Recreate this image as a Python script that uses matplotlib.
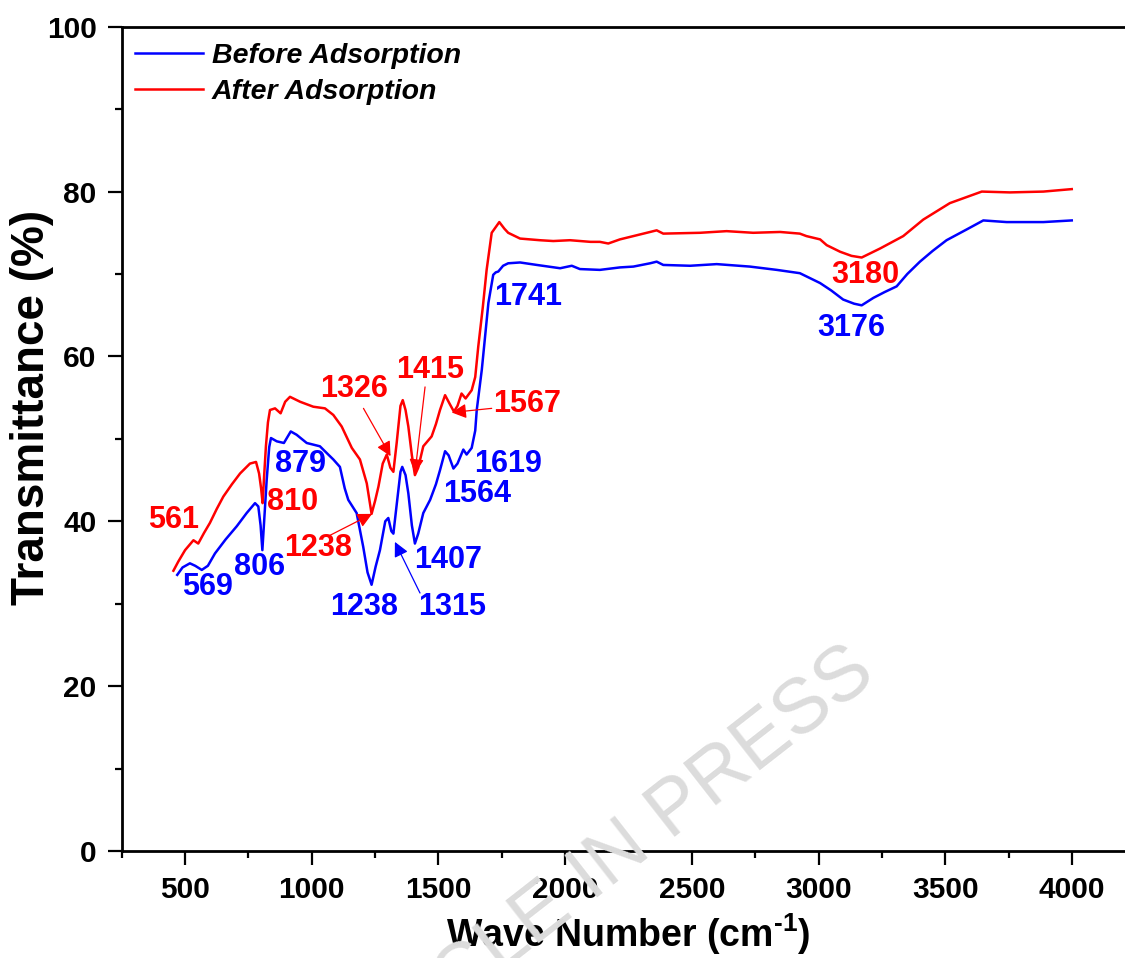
import matplotlib.pyplot as plt
from matplotlib.ticker import MultipleLocator

plt.rcParams['font.family'] = ['Liberation Sans', 'DejaVu Sans']
plt.rcParams['font.weight'] = 'bold'
plt.rcParams['mathtext.fontset'] = 'custom'
plt.rcParams['mathtext.rm'] = 'Liberation Sans:bold'
plt.rcParams['mathtext.bf'] = 'Liberation Sans:bold'

# FTIR spectra, wave number (cm-1) vs transmittance (%)
wn_before = [469, 490, 519, 540, 566, 590, 618, 660, 704, 743, 776, 789, 798, 805, 812,
             822, 832, 839, 862, 890, 917, 940, 980, 1032, 1065, 1085, 1111, 1130, 1144,
             1177, 1203, 1220, 1236, 1252, 1269, 1290, 1302, 1314, 1322, 1335, 1350, 1357,
             1370, 1381, 1395, 1407, 1420, 1440, 1467, 1490, 1506, 1526, 1540, 1559, 1575,
             1598, 1611, 1631, 1645, 1651, 1671, 1697, 1716, 1726, 1736, 1755, 1775, 1822,
             1888, 1980, 2026, 2058, 2137, 2216, 2269, 2335, 2361, 2387, 2493, 2598, 2729,
             2835, 2926, 3006, 3050, 3097, 3140, 3170, 3216, 3260, 3308, 3350, 3400, 3450,
             3505, 3584, 3650, 3742, 3887, 3999]
t_before = [33.5, 34.4, 34.9, 34.6, 34.1, 34.6, 36.1, 37.8, 39.4, 41.0, 42.2, 41.8, 39.5, 36.5, 40.0,
            45.0, 49.0, 50.1, 49.7, 49.5, 50.9, 50.5, 49.5, 49.1, 48.1, 47.5, 46.6, 44.0, 42.6,
            41.0, 36.9, 33.8, 32.3, 34.5, 36.5, 40.0, 40.4, 38.8, 38.5, 42.0, 46.0, 46.6,
            45.6, 43.4, 39.5, 37.3, 38.5, 41.0, 42.6, 44.5, 46.2, 48.5, 48.0, 46.4, 47.0,
            48.7, 48.1, 48.9, 51.0, 53.5, 58.4, 66.5, 69.9, 70.2, 70.3, 71.0, 71.3, 71.4,
            71.1, 70.7, 71.0, 70.6, 70.5, 70.8, 70.9, 71.3, 71.5, 71.1, 71.0, 71.2, 70.9,
            70.5, 70.1, 68.9, 68.0, 66.9, 66.4, 66.2, 67.1, 67.8, 68.5, 70.0, 71.5, 72.8,
            74.1, 75.4, 76.5, 76.3, 76.3, 76.5]

wn_after = [454, 473, 500, 533, 552, 575, 598, 625, 651, 685, 717, 756, 780, 792, 800, 806,
            812, 819, 827, 835, 855, 877, 895, 914, 954, 1006, 1052, 1085, 1118, 1158, 1190,
            1217, 1236, 1250, 1263, 1280, 1296, 1310, 1322, 1335, 1350, 1359, 1370, 1381,
            1395, 1407, 1420, 1440, 1473, 1490, 1506, 1526, 1545, 1561, 1575, 1591, 1607,
            1631, 1645, 1657, 1675, 1690, 1710, 1740, 1760, 1775, 1822, 1900, 1953, 2019,
            2100, 2137, 2170, 2216, 2269, 2335, 2361, 2387, 2532, 2637, 2742, 2848, 2926,
            2952, 3006, 3032, 3085, 3130, 3170, 3243, 3334, 3413, 3518, 3644, 3755, 3887, 3999]
t_after = [34.0, 35.1, 36.5, 37.7, 37.3, 38.6, 39.8, 41.5, 43.0, 44.5, 45.8, 47.0, 47.2, 45.8, 44.0, 42.2,
           45.5, 49.1, 52.0, 53.5, 53.7, 53.1, 54.5, 55.1, 54.5, 53.9, 53.7, 52.9, 51.5, 48.9, 47.5,
           44.6, 40.9, 42.5, 44.2, 47.0, 48.1, 46.5, 46.0, 49.5, 54.0, 54.7, 53.5, 51.5,
           48.0, 45.6, 46.5, 49.1, 50.3, 51.8, 53.5, 55.3, 54.2, 53.3, 54.0, 55.5, 54.9,
           55.9, 57.5, 61.2, 66.0, 70.5, 75.0, 76.3, 75.5, 75.0, 74.3, 74.1, 74.0, 74.1,
           73.9, 73.9, 73.7, 74.2, 74.6, 75.1, 75.3, 74.9, 75.0, 75.2, 75.0, 75.1, 74.9,
           74.6, 74.2, 73.5, 72.7, 72.2, 72.0, 73.1, 74.6, 76.6, 78.6, 80.0, 79.9, 80.0, 80.3]

# peak labels: text, label position (x, y)
labels_before = [("569", 587, 32.0), ("806", 792, 34.5), ("879", 954, 47.0),
                 ("1238", 1206, 29.6), ("1315", 1553, 29.6), ("1407", 1537, 35.3),
                 ("1564", 1652, 43.3), ("1619", 1774, 47.0), ("1741", 1853, 67.2),
                 ("3176", 3128, 63.5)]
labels_after = [("561", 456, 40.1), ("810", 926, 42.4), ("1238", 1025, 36.8),
                ("1326", 1166, 56.0), ("1415", 1467, 58.4), ("1567", 1849, 54.2),
                ("3180", 3183, 69.9)]

# arrows: (tail x, tail y, head x, head y)
arrows_before = [(1427, 31.3, 1328, 37.5)]
arrows_after = [(1072, 38.3, 1238, 40.9), (1204, 53.7, 1311, 47.9),
                (1447, 56.3, 1407, 45.8), (1710, 53.7, 1552, 53.2)]

fig = plt.figure(figsize=(11.25, 9.58), dpi=100)
ax = fig.add_axes([0.1082, 0.1117, 0.901, 0.8604])

ax.plot(wn_before, t_before, color='#0000ff', lw=1.8, label='Before Adsorption')
ax.plot(wn_after, t_after, color='#ff0000', lw=1.8, label='After Adsorption')

for txt, x, y in labels_before:
    ax.text(x, y, txt, color='#0000ff', fontsize=22, fontweight='bold', ha='center', va='center')
for txt, x, y in labels_after:
    ax.text(x, y, txt, color='#ff0000', fontsize=22, fontweight='bold', ha='center', va='center')

for x0, y0, x1, y1 in arrows_before:
    ax.annotate('', xy=(x1, y1), xytext=(x0, y0),
                arrowprops=dict(arrowstyle='-|>', color='#0000ff', lw=0.9, mutation_scale=22,
                                shrinkA=0, shrinkB=0))
for x0, y0, x1, y1 in arrows_after:
    ax.annotate('', xy=(x1, y1), xytext=(x0, y0),
                arrowprops=dict(arrowstyle='-|>', color='#ff0000', lw=0.9, mutation_scale=22,
                                shrinkA=0, shrinkB=0))

ax.set_xlim(250, 4250)
ax.set_ylim(0, 100)
ax.xaxis.set_major_locator(MultipleLocator(500))
ax.xaxis.set_minor_locator(MultipleLocator(250))
ax.yaxis.set_major_locator(MultipleLocator(20))
ax.yaxis.set_minor_locator(MultipleLocator(10))
ax.tick_params(which='major', direction='out', length=10, width=1.6, labelsize=21.5, pad=8)
ax.tick_params(which='minor', direction='out', length=5, width=1.6)
for lab in ax.get_xticklabels() + ax.get_yticklabels():
    lab.set_fontweight('bold')
for side in ['left', 'bottom', 'top']:
    ax.spines[side].set_linewidth(2)
ax.spines['right'].set_visible(False)

ax.set_xlabel('Wave Number (cm$^{\\text{-1}}$)', fontsize=27, fontweight='bold', labelpad=5)
ax.set_ylabel('Transmittance (%)', fontsize=33, fontweight='bold')
ax.yaxis.set_label_coords(-0.067, 0.5376)

leg = ax.legend(loc='upper left', bbox_to_anchor=(0.002, 0.994), frameon=False,
                prop=dict(size=20.5, weight='bold', style='italic'),
                handlelength=2.4, handletextpad=0.3, labelspacing=0.36, borderaxespad=0)

fig.text(0.52, 0.08, 'ARTICLE IN PRESS', fontsize=56, color='#dcdcdc', rotation=38,
         ha='center', va='center', fontweight='normal', zorder=10)

fig.savefig('out.png', dpi=100)
